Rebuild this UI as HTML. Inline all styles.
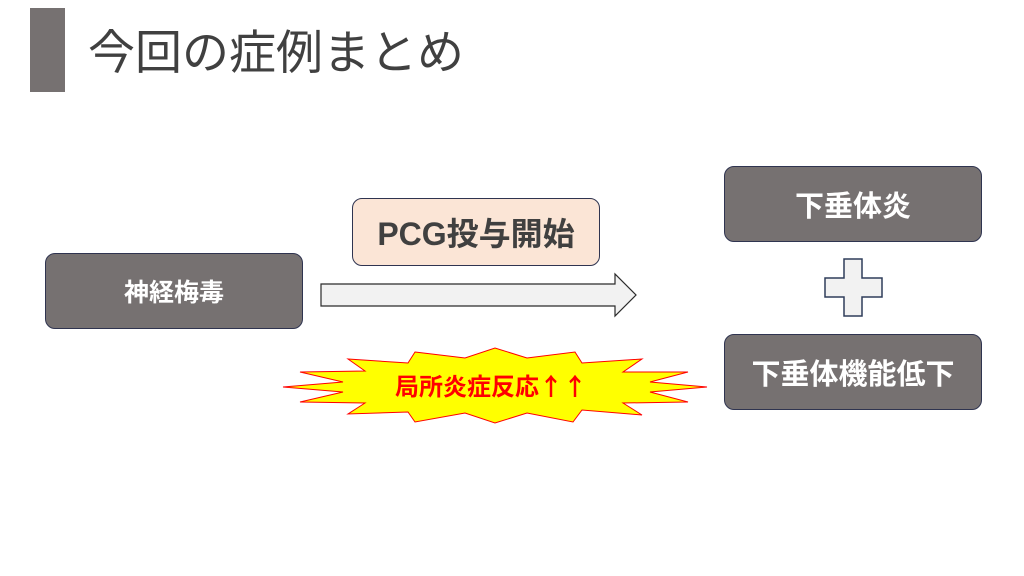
<!DOCTYPE html>
<html><head><meta charset="utf-8"><style>
body{margin:0;width:1024px;height:576px;background:#fff;position:relative;overflow:hidden;font-family:"Liberation Sans","Noto Sans CJK JP",sans-serif}
.b{position:absolute;box-sizing:border-box;border:1.5px solid #2f3450;border-radius:10px;display:flex;align-items:center;justify-content:center;font-weight:bold}
.g{background:#767171;color:#fff}
</style></head><body>
<div style="position:absolute;left:30px;top:8px;width:35px;height:84px;background:#767171"></div>
<div style="position:absolute;left:88px;top:24px;font-size:47px;color:#404040;line-height:58px">今回の症例まとめ</div>
<div class="b g" style="left:45px;top:253px;width:258px;height:76px;font-size:25px">神経梅毒</div>
<div class="b" style="left:352px;top:198px;width:248px;height:68px;background:#fbe5d6;color:#404040;font-size:32px">PCG投与開始</div>
<div class="b g" style="left:724px;top:166px;width:258px;height:76px;font-size:29px">下垂体炎</div>
<div class="b g" style="left:724px;top:334px;width:258px;height:76px;font-size:29px">下垂体機能低下</div>
<svg style="position:absolute;left:0;top:0" width="1024" height="576">
<polygon points="321,284 615,284 615,274 636,295 615,316 615,306 321,306" fill="#f2f2f2" stroke="#2b2b2b" stroke-width="1.2"/>
<polygon points="844,259 862,259 862,278 882,278 882,297 862,297 862,316 844,316 844,297 825,297 825,278 844,278" fill="#f2f2f2" stroke="#2f3d5a" stroke-width="1.5"/>
<polygon points="415,352 465,358 495,348 527,358 575,352 582,363 642,359 623,372 688,372 650,382 707,387 650,392 688,402 623,403 642,415 582,410 573,422 527,413 495,423 465,413 415,422 408,412 348,414 365,403 300,402 343,392 283,387 343,382 300,372 365,371 348,359 408,363" fill="#ffff00" stroke="#ff0000" stroke-width="1"/>
<text x="395" y="395" font-size="24" font-weight="bold" fill="#ff0000" font-family="Noto Sans CJK JP,sans-serif">局所炎症反応↑↑</text>
</svg>
</body></html>
